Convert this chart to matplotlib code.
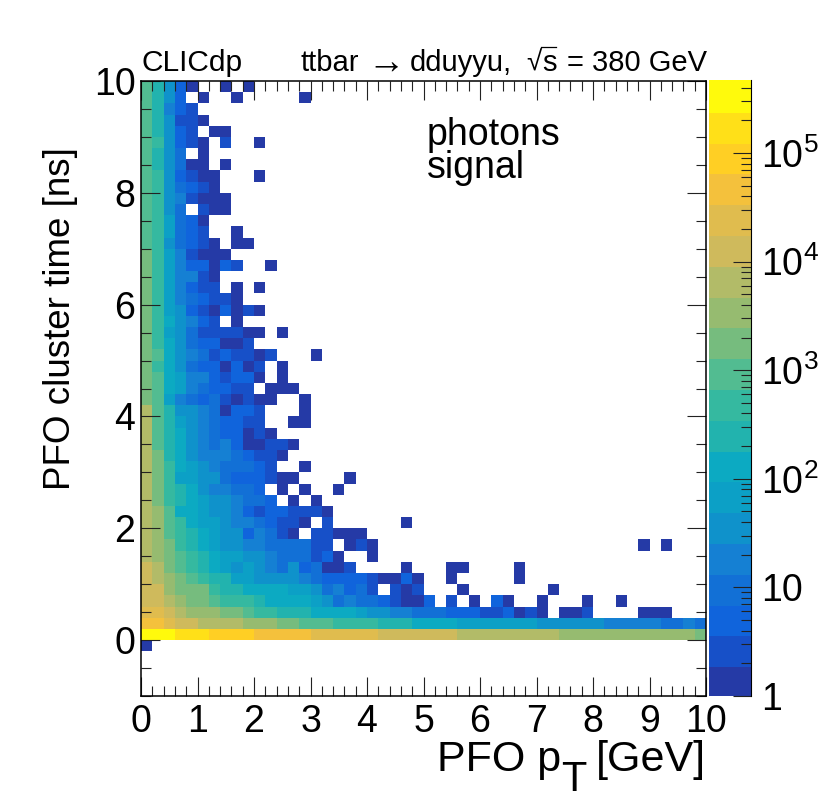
import numpy as np
import matplotlib
matplotlib.use("Agg")
import matplotlib.pyplot as plt
from matplotlib.lines import Line2D
from matplotlib.colors import ListedColormap, LogNorm
from matplotlib.ticker import LogLocator, FixedLocator, FixedFormatter, NullFormatter, MultipleLocator

plt.rcParams['font.family'] = ['Liberation Sans', 'DejaVu Sans']
plt.rcParams['mathtext.fontset'] = 'custom'
plt.rcParams['mathtext.rm'] = 'Liberation Sans'
plt.rcParams['mathtext.it'] = 'Liberation Sans:italic'
plt.rcParams['mathtext.bf'] = 'Liberation Sans:bold'
plt.rcParams['mathtext.fallback'] = 'stixsans'

# Each row: colour-level of the 0.2 GeV pT bins, one character per bin
# ('.' = empty, 0-9 then a-j = level 0..19). Rows run from t = 10 ns downwards in 0.2 ns steps.
row_00 = "a8520..0.0"
row_01 = "a852.0..0.....0"
row_02 = "a8421"
row_03 = "a85110"
row_04 = "a8521.00"
row_05 = "a95210.1..0"
row_06 = "a853.0"
row_07 = "a85300.0"
row_08 = "a952100...0"
row_09 = "a953210"
row_10 = "a9541000"
row_11 = "a953.100"
row_12 = "a96320"
row_13 = "a96321..0"
row_14 = "a953210.00"
row_15 = "b9641000"
row_16 = "b96422021..0"
row_17 = "b964410"
row_18 = "b964211.0.0"
row_19 = "b96432110"
row_20 = "b9652102010"
row_21 = "b975421.0"
row_22 = "b9653111100.0"
row_23 = "b975322001"
row_24 = "ba7543121101...0"
row_25 = "b9753220201.0"
row_26 = "ba764421220.0"
row_27 = "ba76432211.000"
row_28 = "ba6432310100..0"
row_29 = "da855430221...0"
row_30 = "da865432211..00"
row_31 = "da8754322010"
row_32 = "da875434200110"
row_33 = "db87544432110"
row_34 = "db9765433321..0"
row_35 = "db966553222100....0"
row_36 = "db987544332.0.0..0"
row_37 = "db9876554332.0.0"
row_38 = "dca77655421221110"
row_39 = "dca976654432110.1......0"
row_40 = "dca98765524310.11000"
row_41 = "dcb98765544333311.010.......................0.0"
row_42 = "dcba98766554333120..0"
row_43 = "edba987656543523001....0...00....0"
row_44 = "edcba98866555543222210020..0.....0"
row_45 = "eecbbb98877776653423" "1.101...0.......0"
row_46 = "eedcbba9998777765343" "321002.1.0.20..0...0..0"
row_47 = "ffedcccbba99888777765544333222" "112010.001....000"
row_48 = "ggfeeddddcccbbaaa9999888777766666665555" "55444443343"
row_49 = "jjjiiihhhhgggggfffff" "feeeeeeedd" "dddddddccc" "cccccccccb"
row_50 = "0"

time_rows = [row_00, row_01, row_02, row_03, row_04, row_05, row_06, row_07, row_08, row_09,
             row_10, row_11, row_12, row_13, row_14, row_15, row_16, row_17, row_18, row_19,
             row_20, row_21, row_22, row_23, row_24, row_25, row_26, row_27, row_28, row_29,
             row_30, row_31, row_32, row_33, row_34, row_35, row_36, row_37, row_38, row_39,
             row_40, row_41, row_42, row_43, row_44, row_45, row_46, row_47, row_48, row_49,
             row_50]

max_count = 4.7e5
palette = ['#253AA6', '#1750C8', '#1064DC', '#1270D6', '#1580D3', '#0F92CB', '#0CA0C6', '#0CAAC2',
           '#22B3AE', '#35B9A0', '#52BC91', '#76BC7E', '#96BB70', '#B2BB68', '#CFBA5C', '#E0BC4E',
           '#F4C13C', '#FFCF24', '#FFE018', '#FFFA0C']
x_edges = np.arange(0, 10.01, 0.2)
y_edges = np.arange(-0.2, 10.01, 0.2)

step = np.log10(max_count) / len(palette)
grid = np.full((51, 50), np.nan)
for i, row in enumerate(time_rows):
    for j, ch in enumerate(row[:50]):
        if ch != '.':
            grid[50 - i, j] = 10 ** ((int(ch, 36) + 0.5) * step)

fig = plt.figure(figsize=(8.3, 8.0), dpi=100)
W, H = 830, 800
def box(l, t, r, b):
    return [l / W, 1 - b / H, (r - l) / W, (b - t) / H]
def put(x, y, s, **kw):
    return fig.text(x / W, 1 - y / H, s, va=kw.pop('va', 'baseline'), **kw)

ax = fig.add_axes(box(141, 81, 706, 696))
norm = LogNorm(1, max_count)
cmap = ListedColormap(palette)
mesh = ax.pcolormesh(x_edges, y_edges, np.ma.masked_invalid(grid), cmap=cmap, norm=norm, linewidth=0, rasterized=True)
ax.set_xlim(0, 10)
ax.set_ylim(-1, 10)
ax.xaxis.set_major_locator(MultipleLocator(1))
ax.xaxis.set_minor_locator(MultipleLocator(0.2))
ax.yaxis.set_major_locator(MultipleLocator(2))
ax.yaxis.set_minor_locator(MultipleLocator(0.5))
ax.set_axisbelow(False)
ax.tick_params(which='major', direction='in', top=True, right=True, length=13.5, width=0.8, labelsize=27, pad=6, color='#222222')
ax.tick_params(which='minor', direction='in', top=True, right=True, length=7, width=0.8, color='#222222')
ax.tick_params(axis='y', which='major', pad=4)
for s in ax.spines.values():
    s.set_linewidth(1.1)
    s.set_zorder(5)

cax = fig.add_axes(box(709, 80, 751, 696))
cb = fig.colorbar(mesh, cax=cax)
cb.solids.set_edgecolor('face')
cb.outline.set_visible(False)
cax.spines['right'].set_visible(True)
cax.yaxis.set_major_locator(FixedLocator([1, 10, 100, 1e3, 1e4, 1e5]))
cax.yaxis.set_major_formatter(FixedFormatter(['1', '10', r'$\mathrm{10}^{\mathrm{2}}$', r'$\mathrm{10}^{\mathrm{3}}$',
                                              r'$\mathrm{10}^{\mathrm{4}}$', r'$\mathrm{10}^{\mathrm{5}}$']))
cax.yaxis.set_minor_locator(LogLocator(base=10, subs=np.arange(2, 10), numticks=12))
cax.yaxis.set_minor_formatter(NullFormatter())
cax.tick_params(which='major', direction='in', right=True, length=13, width=0.8, labelsize=27, pad=7.5, color='#222222')
cax.tick_params(which='minor', direction='in', right=True, length=7, width=0.8, color='#222222')

put(141, 71, 'CLICdp', fontsize=21.5, ha='left')
put(300, 71, 'ttbar', fontsize=21, ha='left')
put(367, 73, '\u2192', fontsize=27, ha='left')
put(410, 71, 'dduyyu,', fontsize=21, ha='left')
put(526, 71, '\u221a', fontsize=20, ha='left')
put(542, 71, 's', fontsize=21, ha='left')
put(707, 71, '= 380 GeV', fontsize=21, ha='right')
fig.add_artist(Line2D([541 / W, 556 / W], [1 - 47 / H, 1 - 47 / H], color='black', lw=0.9))
put(427, 145, 'photons', fontsize=27, ha='left')
put(427, 178, 'signal', fontsize=27, ha='left')
fig.text(60 / W, 1 - 319 / H, 'PFO cluster time [ns]', fontsize=26.5, rotation=90, ha='center', va='center')
put(437, 771, 'PFO p', fontsize=31, ha='left')
put(561, 791, 'T', fontsize=30, ha='left')
put(706, 771, '[GeV]', fontsize=31, ha='right')

fig.savefig('out.png', dpi=100)
